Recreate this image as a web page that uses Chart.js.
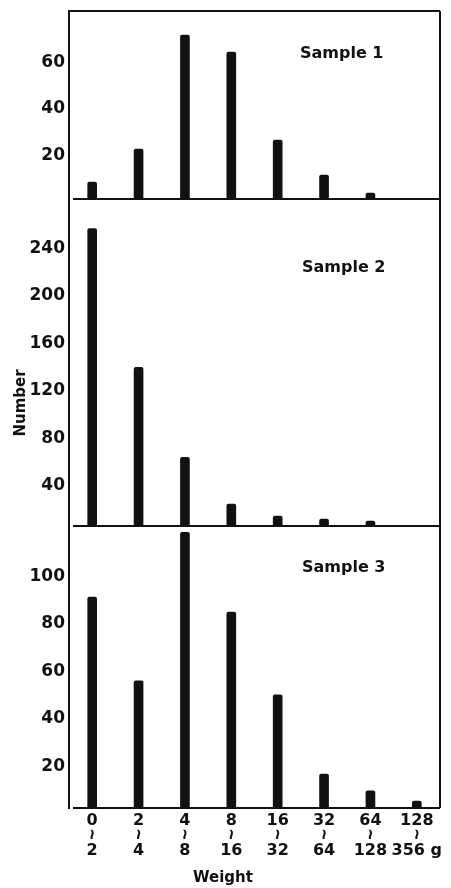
<!DOCTYPE html>
<html>
<head>
<meta charset="utf-8">
<script src="https://cdn.jsdelivr.net/npm/chart.js@4.4.1/dist/chart.umd.min.js"></script>
<style>
html,body{margin:0;padding:0;background:#fff;}
#wrap{position:relative;width:451px;height:888px;overflow:hidden;font-family:"DejaVu Sans",sans-serif;color:#111;}
canvas{position:absolute;left:0;}
.lbl{position:absolute;white-space:pre;font-size:16px;font-weight:bold;line-height:20px;}
.ttl{position:absolute;white-space:pre;font-size:15px;font-weight:bold;line-height:16px;text-align:center;}
</style>
</head>
<body>
<div id="wrap">
  <canvas id="c1" width="451" height="210" style="top:0px"></canvas>
  <canvas id="c2" width="451" height="345" style="top:190px"></canvas>
  <canvas id="c3" width="451" height="372" style="top:516px"></canvas>
  <div class="lbl" style="left:300px;top:43px">Sample 1</div>
  <div class="lbl" style="left:302px;top:257px">Sample 2</div>
  <div class="lbl" style="left:302px;top:557px">Sample 3</div>
  <div class="ttl" style="left:-20px;top:395px;width:80px;transform:rotate(-90deg)">Number</div>
  <div class="ttl" style="left:173px;top:869px;width:100px">Weight</div>
</div>
<script>
// ---- data ----
const lowBounds  = ["0", "2", "4", "8", "16", "32", "64", "128"];
const rangeMarks = ["≀", "≀", "≀", "≀", "≀", "≀", "≀", "≀"];
const highBounds = ["2", "4", "8", "16", "32", "64", "128", "356 g"];

const sample1 = [7.3, 21.5, 70.5, 63.2, 25.4, 10.3, 2.6, 0];
const sample2 = [251, 134, 58, 18.6, 8.4, 5.9, 4.2, 0];
const sample3 = [88.8, 53.5, 116, 82.5, 47.6, 14.3, 7.2, 2.9];

const yTicks1 = [20, 40, 60];
const yTicks2 = [40, 80, 120, 160, 200, 240];
const yTicks3 = [20, 40, 60, 80, 100];

const yMax1 = 80.9;
const yMax2 = 276;
const yMax3 = 118.7;

// ---- styling helpers ----
const INK = '#111';
const tickFont = {family: 'DejaVu Sans', size: 17, weight: 'bold'};

const framePlugin = {
  id: 'frame',
  afterDatasetsDraw(chart, args, opts) {
    const {ctx, chartArea: a, scales: {y}} = chart;
    ctx.save();
    ctx.strokeStyle = INK;
    ctx.lineWidth = 2;
    ctx.beginPath();
    ctx.moveTo(a.right, a.top);
    ctx.lineTo(a.right, a.bottom);
    if (opts.top) {
      ctx.moveTo(a.left, a.top);
      ctx.lineTo(a.right, a.top);
    }
    const y0 = y.getPixelForValue(0);
    ctx.moveTo(a.left + 4, y0);
    ctx.lineTo(a.right, y0);
    ctx.stroke();
    ctx.restore();
  }
};

function yScale(max, ticks, labelOffset) {
  return {
    min: 0,
    max: max,
    afterBuildTicks: s => { s.ticks = ticks.map(v => ({value: v})); },
    afterFit: s => { s.width = 69; s.paddingTop = 0; s.paddingBottom = 0; },
    grid: {display: false, drawTicks: false},
    border: {display: true, color: INK, width: 2},
    ticks: {color: INK, font: tickFont, padding: 4, labelOffset: labelOffset}
  };
}

function dataset(values) {
  return {
    data: values,
    backgroundColor: INK,
    borderWidth: 0,
    barThickness: 9,
    borderRadius: {topLeft: 2, topRight: 2, bottomLeft: 0, bottomRight: 0},
    borderSkipped: 'bottom'
  };
}

function baseOptions(pad, scales, frameTop) {
  return {
    responsive: false,
    animation: false,
    devicePixelRatio: 1,
    layout: {padding: pad},
    plugins: {legend: {display: false}, tooltip: {enabled: false}, frame: {top: frameTop}},
    scales: scales
  };
}

new Chart(document.getElementById('c1'), {
  type: 'bar',
  data: {labels: lowBounds, datasets: [dataset(sample1)]},
  options: baseOptions({top: 11, bottom: 11, left: 0, right: 11}, {
    x: {display: false, offset: true},
    y: yScale(yMax1, yTicks1, 3)
  }, true),
  plugins: [framePlugin]
});

new Chart(document.getElementById('c2'), {
  type: 'bar',
  data: {labels: lowBounds, datasets: [dataset(sample2)]},
  options: baseOptions({top: 9, bottom: 9, left: 0, right: 11}, {
    x: {display: false, offset: true},
    y: yScale(yMax2, yTicks2, 7)
  }, false),
  plugins: [framePlugin]
});

function xAxis(extra, height, size, padding) {
  return Object.assign({
    position: 'bottom',
    offset: true,
    grid: {display: false, drawTicks: false},
    border: {display: false},
    ticks: {color: INK, font: {family: 'DejaVu Sans', size: size, weight: 'bold'}, padding: padding, maxRotation: 0, autoSkip: false},
    afterFit: s => { s.height = height; s.paddingLeft = 0; s.paddingRight = 0; }
  }, extra);
}

new Chart(document.getElementById('c3'), {
  type: 'bar',
  data: {labels: lowBounds, datasets: [dataset(sample3)]},
  options: baseOptions({top: 10, bottom: 30, left: 0, right: 11}, {
    y: yScale(yMax3, yTicks3, 6),
    x: xAxis({}, 18, 16, 3),
    xs: xAxis({type: 'category', labels: rangeMarks}, 13, 18, 0),
    x2: xAxis({type: 'category', labels: highBounds}, 19, 16, 2)
  }, false),
  plugins: [framePlugin]
});
</script>
</body>
</html>
